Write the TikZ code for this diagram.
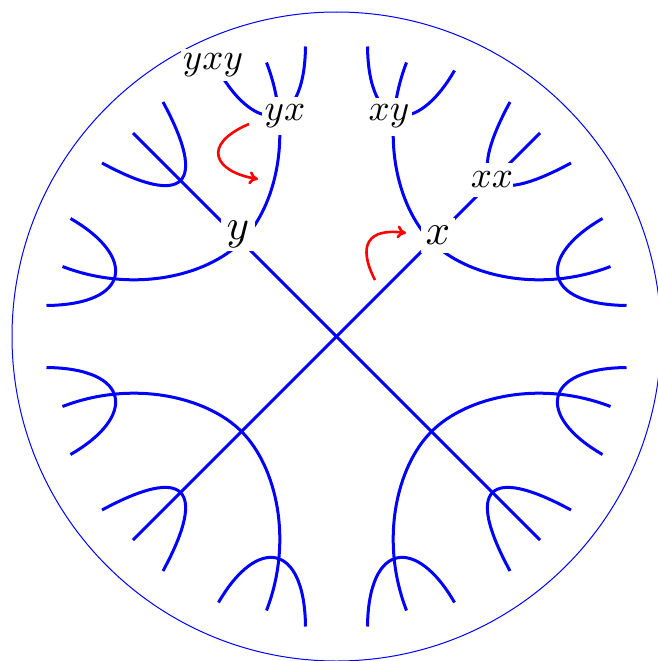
\documentclass[tikz,border=0pt]{standalone}
\usepackage{graphicx}
\usetikzlibrary{arrows.meta}
\tikzset{
  bluecurve/.style={blue, line width=3pt},
  rim/.style={blue, line width=1pt},
  lab/.style={fill=white, inner sep=0pt, text=black},
  redarrow/.style={red, line width=2.6pt, -{To[length=9pt,width=13pt]}},
}
\newcommand{\qcurves}{%
  % big arc through the first vertex
  \draw[bluecurve] (-274,70) .. controls (-204,43) and (-130,60) .. (-95,95)
                             .. controls (-60,130) and (-43,204) .. (-70,274);
  % hairpins at the two ends of the big arc
  \draw[bluecurve] (-290,31) .. controls (-205,32) and (-200,80) .. (-266,118);
  \draw[bluecurve] (-31,290) .. controls (-32,205) and (-80,200) .. (-118,266);
  % hairpin on the diagonal
  \draw[bluecurve] (-173.5,234.5) .. controls (-128.5,151.5) and (-151.5,128.5) .. (-234.5,173.5);
  % diagonal
  \draw[bluecurve] (0,0) -- (-203.5,203.5);
}
\begin{document}
\begin{tikzpicture}[x=1pt,y=-1pt]
\useasboundingbox (0,0) rectangle (658,661);
\begin{scope}[shift={(336.5,336.5)}]
  \draw[rim] (0,0) circle[radius=324.5];
  \qcurves
  \begin{scope}[xscale=-1]\qcurves\end{scope}
  \begin{scope}[yscale=-1]\qcurves\end{scope}
  \begin{scope}[xscale=-1,yscale=-1]\qcurves\end{scope}
\end{scope}
% labels (white backing makes the gaps)
\node[lab, minimum width=34, minimum height=34] (y) at (238,234) {\scalebox{4.3}{$y$}};
\node[lab, minimum width=34, minimum height=35] (x) at (438,235) {\scalebox{4.3}{$x$}};
\node[lab, minimum width=46, minimum height=38] (yx) at (285,116) {\scalebox{3.7}{$yx$}};
\node[lab, minimum width=46, minimum height=38] (xy) at (389,116.5) {\scalebox{3.7}{$xy$}};
\node[lab, minimum width=32, minimum height=34] (xx) at (492,180) {\scalebox{3.7}{$xx$}};
\node[lab, minimum width=64, minimum height=32] (yxy) at (213,65) {\scalebox{3.7}{$yxy$}};
% red arrows
\coordinate (a1s) at (249,124);
\coordinate (a1e) at (258,179);
\coordinate (a2s) at (375,280);
\coordinate (a2e) at (406,233);
\draw[redarrow] (a1s) .. controls (200,145) and (215,172) .. (a1e);
\draw[redarrow] (a2s) .. controls (357,245) and (368,228) .. (a2e);
\end{tikzpicture}
\end{document}
